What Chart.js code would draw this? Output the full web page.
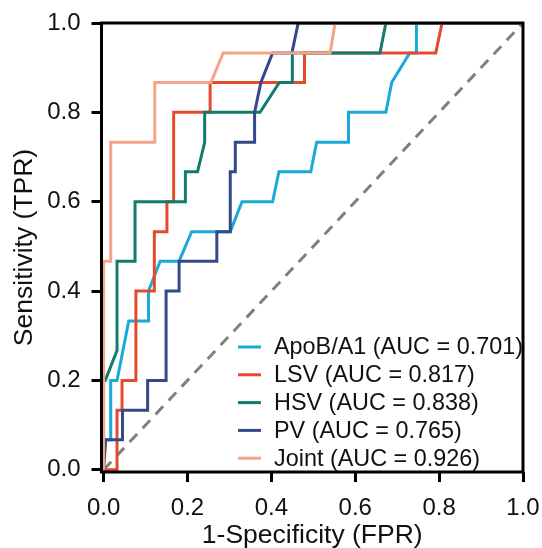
<!DOCTYPE html>
<html>
<head>
<meta charset="utf-8">
<script src="https://cdn.jsdelivr.net/npm/chart.js@4"></script>
<style>
  html, body { margin: 0; padding: 0; background: #fff; }
  #wrap { width: 542px; height: 548px; }
</style>
</head>
<body>
<div id="wrap"><canvas id="roc" width="542" height="548"></canvas></div>
<script>
// ROC curves (FPR on x, TPR on y)
const seriesNames = ['ApoB/A1', 'LSV', 'HSV', 'PV', 'Joint'];
const aucValues = [0.701, 0.817, 0.838, 0.765, 0.926];
const seriesColors = ['#1BA9D8', '#E64A2E', '#127C6C', '#33498A', '#F7A387'];

const apobFpr = [0, 0, 0.017, 0.017, 0.032, 0.060, 0.107, 0.107, 0.135, 0.180, 0.210, 0.302, 0.330, 0.403, 0.418, 0.494, 0.508, 0.584, 0.584, 0.673, 0.687, 0.730, 0.746, 0.746, 1];
const apobTpr = [0, 0.067, 0.067, 0.200, 0.200, 0.333, 0.333, 0.400, 0.467, 0.467, 0.533, 0.533, 0.600, 0.600, 0.667, 0.667, 0.733, 0.733, 0.800, 0.800, 0.867, 0.933, 0.933, 1, 1];

const lsvFpr = [0, 0.032, 0.032, 0.044, 0.044, 0.077, 0.077, 0.121, 0.121, 0.151, 0.151, 0.167, 0.167, 0.254, 0.254, 0.479, 0.479, 0.792, 0.807, 1];
const lsvTpr = [0, 0, 0.133, 0.133, 0.200, 0.200, 0.400, 0.400, 0.533, 0.533, 0.600, 0.600, 0.800, 0.800, 0.867, 0.867, 0.933, 0.933, 1, 1];

const hsvFpr = [0, 0, 0.004, 0.032, 0.032, 0.075, 0.075, 0.195, 0.195, 0.224, 0.241, 0.241, 0.373, 0.419, 0.450, 0.450, 0.659, 0.673, 1];
const hsvTpr = [0, 0.200, 0.200, 0.267, 0.467, 0.467, 0.600, 0.600, 0.667, 0.667, 0.733, 0.800, 0.800, 0.867, 0.867, 0.933, 0.933, 1, 1];

const pvFpr = [0, 0.005, 0.045, 0.045, 0.105, 0.105, 0.149, 0.149, 0.180, 0.180, 0.270, 0.270, 0.302, 0.302, 0.314, 0.314, 0.360, 0.360, 0.375, 0.403, 0.449, 0.464, 1];
const pvTpr = [0, 0.067, 0.067, 0.133, 0.133, 0.200, 0.200, 0.400, 0.400, 0.467, 0.467, 0.533, 0.533, 0.667, 0.667, 0.733, 0.733, 0.800, 0.867, 0.933, 0.933, 1, 1];

const jointFpr = [0, 0, 0.017, 0.017, 0.122, 0.122, 0.256, 0.285, 0.540, 0.552, 1];
const jointTpr = [0, 0.467, 0.467, 0.733, 0.733, 0.867, 0.867, 0.933, 0.933, 1, 1];

const refFpr = [0, 1];
const refTpr = [0, 1];

const tickValues = [0, 0.2, 0.4, 0.6, 0.8, 1.0];

const xs = [apobFpr, lsvFpr, hsvFpr, pvFpr, jointFpr];
const ys = [apobTpr, lsvTpr, hsvTpr, pvTpr, jointTpr];
const zip = (a, b) => a.map((v, i) => ({ x: v, y: b[i] }));

const FONT = "'Liberation Sans', Arial, sans-serif";

const datasets = seriesNames.map((name, i) => ({
  label: name + ' (AUC = ' + aucValues[i].toFixed(3) + ')',
  data: zip(xs[i], ys[i]),
  borderColor: seriesColors[i],
  borderWidth: 3,
  showLine: true,
  pointRadius: 0,
  fill: false,
  tension: 0,
  order: seriesNames.length - 1 - i
}));
datasets.push({
  label: 'ref',
  data: zip(refFpr, refTpr),
  borderColor: '#808080',
  borderWidth: 3,
  borderDash: [11, 8],
  showLine: true,
  pointRadius: 0,
  order: 10
});

// black box round the panel + legend in the lower right
const panelPlugin = {
  id: 'panel',
  afterDatasetsDraw(chart) {
    const { ctx, chartArea: a } = chart;
    ctx.save();
    ctx.strokeStyle = '#000';
    ctx.lineWidth = 3;
    ctx.strokeRect(a.left, a.top, a.right - a.left, a.bottom - a.top);

    ctx.font = '23.4px ' + FONT;
    ctx.textBaseline = 'middle';
    ctx.fillStyle = '#111';
    const x0 = 238, rowH = 27.8, y0 = 347;
    seriesNames.forEach((n, i) => {
      const ds = chart.data.datasets[i];
      const y = y0 + i * rowH;
      ctx.strokeStyle = ds.borderColor;
      ctx.lineWidth = 3;
      ctx.beginPath();
      ctx.moveTo(x0, y);
      ctx.lineTo(x0 + 23, y);
      ctx.stroke();
      ctx.fillText(ds.label, x0 + 36, y + 1);
    });
    ctx.restore();
  }
};

const axisCommon = {
  type: 'linear',
  min: -0.005,
  max: 1,
  afterBuildTicks: s => { s.ticks = tickValues.map(v => ({ value: v })); },
  grid: {
    drawOnChartArea: false,
    drawTicks: true,
    tickLength: 10,
    tickColor: '#000',
    tickWidth: 3
  },
  border: { display: false }
};

new Chart(document.getElementById('roc'), {
  type: 'scatter',
  data: { datasets },
  options: {
    responsive: false,
    animation: false,
    layout: { padding: { top: 23, right: 19, left: 0, bottom: 0 } },
    plugins: { legend: { display: false }, tooltip: { enabled: false } },
    scales: {
      x: Object.assign({}, axisCommon, {
        position: 'bottom',
        afterFit: s => { s.height = 76; s.paddingLeft = 0; s.paddingRight = 0; },
        ticks: { color: '#111', font: { family: FONT, size: 24 }, padding: 12, maxRotation: 0,
                 callback: v => v.toFixed(1) },
        title: { display: true, text: '1-Specificity (FPR)', color: '#111',
                 font: { family: FONT, size: 26.5, lineHeight: 0.95 }, padding: { top: 0, bottom: 0 } }
      }),
      y: Object.assign({}, axisCommon, {
        position: 'left',
        afterFit: s => { s.width = 101.5; s.paddingTop = 0; s.paddingBottom = 0; },
        ticks: { color: '#111', font: { family: FONT, size: 24 }, padding: 11,
                 callback: v => v.toFixed(1) },
        title: { display: true, text: 'Sensitivity (TPR)', color: '#111',
                 font: { family: FONT, size: 26.5, lineHeight: 1.1 }, padding: { top: 10, bottom: 0 } }
      })
    }
  },
  plugins: [panelPlugin]
});
</script>
</body>
</html>
